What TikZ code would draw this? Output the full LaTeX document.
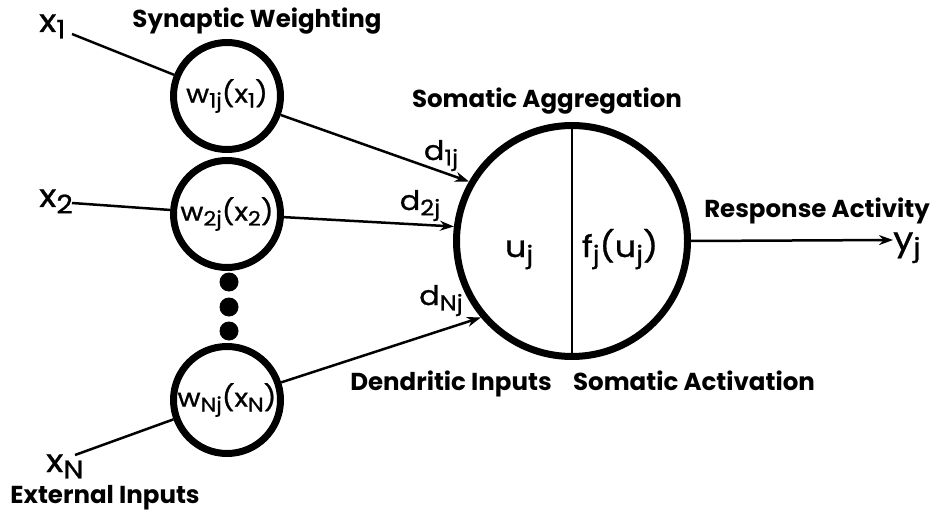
\documentclass[tikz,border=0pt]{standalone}
\usepackage{fontspec}
\usepackage{graphicx}
\setmainfont{Poppins}
\newfontfamily\varfont{Poppins}[FakeStretch=1.12,FakeBold=1]
\usetikzlibrary{arrows.meta}
\newcommand\sub[1]{\raisebox{-0.2em}{\scalebox{0.8}{#1}}}
\begin{document}
\begin{tikzpicture}[x=1pt,y=-1pt,
  syn/.style={circle,draw,line width=7pt,minimum size=107pt,inner sep=0pt,font=\varfont\fontsize{25}{27}\selectfont},
  somabox/.style={circle,draw,line width=7pt,minimum size=231pt,inner sep=0pt},
  lbl/.style={font=\bfseries\fontsize{24.5}{27}\selectfont,anchor=base,inner sep=0pt},
  var/.style={font=\varfont\fontsize{32}{34}\selectfont,inner sep=0pt,anchor=base west},
  dlbl/.style={font=\varfont\fontsize{27}{29}\selectfont,inner sep=0pt,anchor=base},
  inner/.style={font=\varfont\fontsize{30}{32}\selectfont,inner sep=0pt,anchor=base},
  wire/.style={line width=2.5pt},
  arr/.style={wire,-{Stealth[length=14pt,width=10pt]}},
  blob/.style={circle,fill,minimum size=19pt,inner sep=0pt}]
\useasboundingbox (0,0) rectangle (939,513);
% synaptic circles
\node[syn] (w1) at (227,96) {w\sub{1j}(x\sub{1})};
\node[syn] (w2) at (227,214) {w\sub{2j}(x\sub{2})};
\node[syn] (wN) at (227,400) {w\sub{Nj}(x\sub{N})};
\node[blob] (b1) at (229,282) {};
\node[blob] (b2) at (229,307) {};
\node[blob] (b3) at (229,331) {};
% soma
\node[somabox] (soma) at (572,241) {};
\draw[line width=2pt] (soma.north) -- (soma.south);
\node[inner] (u) at (519,257) {u\sub{j}};
\node[inner] (f) at (620,257) {f\sub{j}(u\sub{j})};
% inputs
\node[var] (x1) at (39,32) {x\sub{1}};
\node[var] (x2) at (39,207) {x\sub{2}};
\node[var] (xN) at (46,472) {x\sub{N}};
\coordinate (x1e) at (72,34);
\coordinate (x2e) at (72,203);
\coordinate (xNe) at (75,455);
\draw[wire] (x1e) -- (w1);
\draw[wire] (x2e) -- (w2);
\draw[wire] (xNe) -- (wN);
% dendrites
\draw[arr] (w1) -- (soma.150);
\draw[arr] (w2) -- (soma.173);
\draw[arr] (wN) -- (soma.220);
\node[dlbl] (d1) at (441,160) {d\sub{1j}};
\node[dlbl] (d2) at (420,210) {d\sub{2j}};
\node[dlbl] (dN) at (441,305) {d\sub{Nj}};
% output
\coordinate (yend) at (893,240);
\draw[arr] (soma.east) -- (yend);
\node[var] (y) at (893,250) {y\sub{j}};
% labels
\node[lbl] (sw) at (257,28) {Synaptic Weighting};
\node[lbl] (sa) at (547,108) {Somatic Aggregation};
\node[lbl] (di) at (451,390) {Dendritic Inputs};
\node[lbl] (sac) at (694,390) {Somatic Activation};
\node[lbl] (ei) at (105,503) {External Inputs};
\node[lbl] (ra) at (817,218) {Response Activity};
\end{tikzpicture}
\end{document}
